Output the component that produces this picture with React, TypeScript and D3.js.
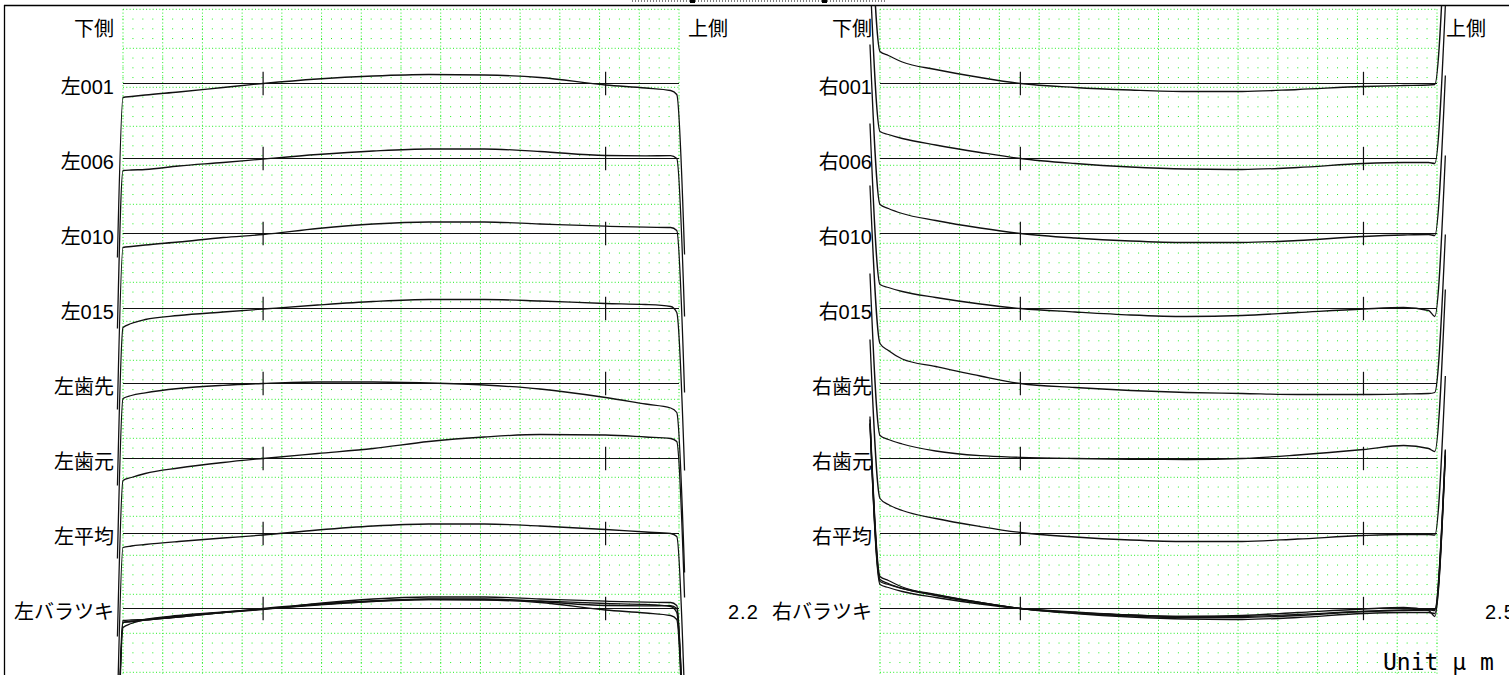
import * as d3 from "d3";

const width = 1509;
const height = 675;

const leftRows = ["左001", "左006", "左010", "左015", "左歯先", "左歯元", "左平均", "左バラツキ"];
const rightRows = ["右001", "右006", "右010", "右015", "右歯先", "右歯元", "右平均", "右バラツキ"];
const sideLabels = ["下側", "上側"];
const scatterValues = ["2.2", "2.5"];

// measuring stations along face width (%), and the evaluation range marks
const stations = [0, 1.5, 4, 10, 18, 25.2, 35, 45, 55, 65, 75, 86.8, 94, 98.5, 99.6];
const evalTicks = [25.2, 86.8];

// deviations (0.1 um, positive = upward on the chart)
const left001 = [-14, -13, -11.5, -8.5, -4, 0, 4.5, 7.5, 9, 8.5, 6, -1.5, -4.5, -7, -11];
const left006 = [-12, -11.5, -11, -7.5, -4, -0.5, 4, 7.5, 9.5, 9.5, 7, 3, 2.7, 2.8, 0];
const left010 = [-14, -13, -11.5, -8.5, -4, -1, 5, 9.5, 11.5, 11.5, 9.5, 7.3, 6.3, 6, 3];
const left015 = [-19, -15, -11, -7, -3.5, -0.5, 3.5, 7, 9, 9, 7.5, 5, 4, 2, -4];
const leftTip = [-15, -12, -9.3, -5, -1.8, 0, 1.5, 1.5, 0.5, -1.5, -5.5, -14, -20.5, -24.5, -29];
const leftRoot = [-22, -19, -15, -9.5, -4, 0, 5, 10, 17, 21.5, 24, 23.5, 21.5, 20, 17];
const leftMean = [-14, -12.5, -11, -8, -4.5, -1.5, 3.5, 7.5, 9.5, 9.5, 7.5, 4, 1.5, 0, -3];

const right001 = [32, 28, 21.5, 14, 6, 0, -4, -6.5, -8, -8, -6, -3, -2, -1.5, -1];
const right006 = [27, 24, 20, 13.5, 6, 0, -5, -8.5, -10.5, -11, -9, -5, -4, -4, -5];
const right010 = [29, 25, 20, 13, 5.5, 0, -4.5, -7.5, -9, -9, -7, -3, -1.5, -1, -2];
const right015 = [24, 21, 17, 11, 4.5, 0, -3.5, -6.5, -8, -7, -4, -0.5, 1, -2, -8];
const rightTip = [40, 33, 24.5, 17, 7.5, 0, -4, -7, -9, -10, -11, -11, -10.5, -10, -9];
const rightRoot = [23, 19, 14.5, 7.5, 2.8, 1.2, 0, -0.8, -1, 0, 3.5, 9, 13, 10, 7];
const rightMean = [35, 29, 23, 15, 7, 1, -3.5, -6.5, -8, -8, -5.5, -2, -1, -1, -1.5];

// run-out of the probe at both ends of each trace (0.1 um)
const leftRunOut = [160, 158, 162, 158, 160, 156, 160];
const rightRunOut = [160, 158, 160, 161, 158, 162, 159];

const leftSeries = [left001, left006, left010, left015, leftTip, leftRoot, leftMean];
const rightSeries = [right001, right006, right010, right015, rightTip, rightRoot, rightMean];

const rowY = d3.scaleLinear().domain([0, 7]).range([83.5, 608.5]);
const dev = d3.scaleLinear().domain([0, 10]).range([0, -10]);

const panels = [
  {
    x: d3.scaleLinear().domain([0, 100]).range([123, 679]),
    rows: leftRows,
    series: leftSeries,
    runOut: leftRunOut,
    dir: -1,
    ends: [-1, 101],
    labelX: 114,
    upperX: 688,
    valueX: 728,
    value: scatterValues[0],
  },
  {
    x: d3.scaleLinear().domain([0, 100]).range([880, 1437]),
    rows: rightRows,
    series: rightSeries,
    runOut: rightRunOut,
    dir: 1,
    ends: [-1.8, 101.5],
    labelX: 872,
    upperX: 1446,
    valueX: 1485,
    value: scatterValues[1],
  },
];

const gridTop = 9.3;
const gridStep = 39;
const gridGreen = "#22ee22";
const font = "'Liberation Sans', 'Noto Sans CJK JP', sans-serif";

type Pt = { x: number; v: number };

function tracePoints(vals: number[], run: number, dir: number, ends: number[]): Pt[] {
  const pts = stations.map((s, i) => ({ x: s, v: vals[i] }));
  return [
    { x: ends[0], v: vals[0] + dir * run },
    ...pts,
    { x: ends[1], v: vals[vals.length - 1] + dir * run },
  ];
}

function Grid({ x }: { x: d3.ScaleLinear<number, number> }) {
  const [x0, x1] = x.range();
  const colStep = (x1 - x0) / 14;
  const minorX = colStep / 4;
  const rows = d3.range(0, 18).map((k) => gridTop + k * gridStep);
  const minorRows = d3
    .range(0, 18 * 4)
    .filter((k) => k % 4 !== 0)
    .map((k) => gridTop + (k * gridStep) / 4);
  const cols = d3.range(0, 15).map((k) => x0 + k * colStep);
  return (
    <g stroke={gridGreen} strokeWidth={1} fill="none">
      {minorRows.map((y, i) => (
        <line key={"m" + i} x1={x0 - 0.5} x2={x1 + 1} y1={y} y2={y} strokeDasharray={`1 ${minorX - 1}`} />
      ))}
      {rows.map((y, i) => (
        <line key={"r" + i} x1={x0} x2={x1} y1={y} y2={y} strokeDasharray="1 2.3" />
      ))}
      {cols.map((c, i) => (
        <line key={"c" + i} x1={c} x2={c} y1={gridTop} y2={height} strokeDasharray="1 2.3" />
      ))}
    </g>
  );
}

export default function App() {
  return (
    <svg
      width={width}
      height={height}
      style={{ position: "absolute", left: 0, top: 0, display: "block", background: "#fff" }}
    >
      <defs>
        <clipPath id="page">
          <rect x={0} y={5.5} width={width} height={height} />
        </clipPath>
      </defs>

      {/* fragment of the sheet above */}
      <line x1={632} x2={887} y1={1} y2={1} stroke="#000" strokeDasharray="1 2" />
      <rect x={690} y={0} width={5} height={3} fill="#000" />
      <rect x={822} y={0} width={5} height={3} fill="#000" />

      <line x1={4} x2={width} y1={5.5} y2={5.5} stroke="#000" strokeWidth={1.3} />
      <line x1={4.5} x2={4.5} y1={5} y2={height} stroke="#000" strokeWidth={1.3} />

      {panels.map((p, pi) => {
        const [x0, x1] = p.x.range();
        const line = (row: number) =>
          d3
            .line<Pt>()
            .x((d) => p.x(d.x))
            .y((d) => rowY(row) + dev(d.v))
            .curve(d3.curveMonotoneX);
        return (
          <g key={pi}>
            <Grid x={p.x} />
            {p.rows.map((_, r) => (
              <g key={r} stroke="#111" strokeWidth={1.2}>
                <line x1={x0} x2={x1} y1={rowY(r)} y2={rowY(r)} />
                {evalTicks.map((t) => (
                  <line key={t} x1={p.x(t)} x2={p.x(t)} y1={rowY(r) - 11.7} y2={rowY(r) + 11.7} />
                ))}
              </g>
            ))}
            <g clipPath="url(#page)" fill="none" stroke="#111" strokeWidth={1.3}>
              {p.series.map((vals, r) => (
                <path key={r} d={line(r)(tracePoints(vals, p.runOut[r], p.dir, p.ends)) ?? ""} />
              ))}
              {p.series.slice(0, 4).map((vals, r) => (
                <path key={"s" + r} d={line(7)(tracePoints(vals, p.runOut[r], p.dir, p.ends)) ?? ""} />
              ))}
            </g>
            <g fontFamily={font} fontSize={20} fill="#000">
              <text x={p.labelX} y={36} textAnchor="end">
                {sideLabels[0]}
              </text>
              <text x={p.upperX} y={36}>
                {sideLabels[1]}
              </text>
              {p.rows.map((name, r) => (
                <text key={name} x={p.labelX} y={rowY(r) + 10} textAnchor="end">
                  {name}
                </text>
              ))}
              <text x={p.valueX} y={rowY(7) + 10.5} letterSpacing={1}>
                {p.value}
              </text>
            </g>
          </g>
        );
      })}

      <text x={1383} y={669.5} fontFamily="'DejaVu Sans Mono', monospace" fontSize={23} fill="#000">
        Unit μ m
      </text>
    </svg>
  );
}
